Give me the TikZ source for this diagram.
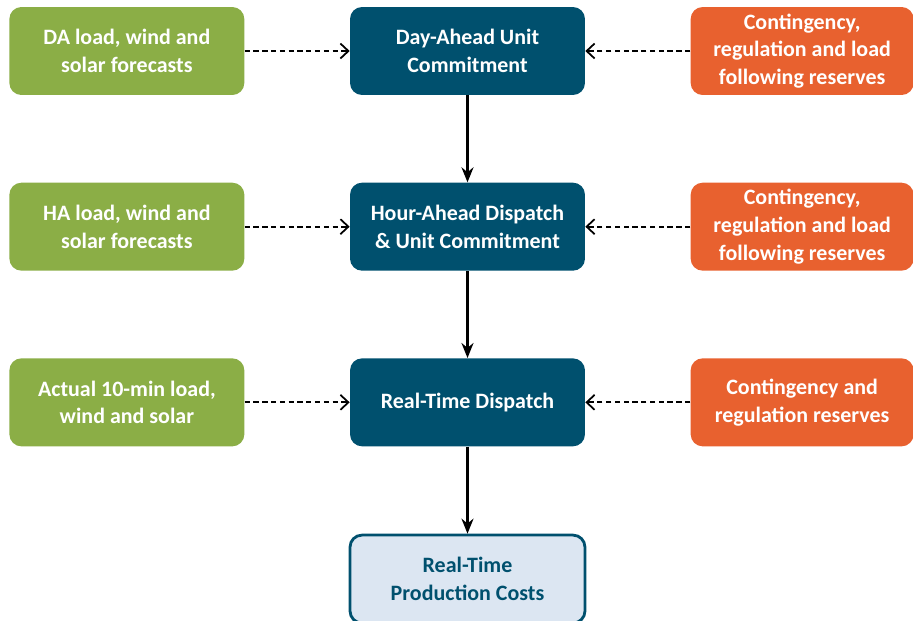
\documentclass[tikz,border=0pt]{standalone}
\usepackage{fontspec}
\setmainfont{Carlito}
\usetikzlibrary{positioning, arrows.meta}

\definecolor{inputgreen}{HTML}{8BAE46}
\definecolor{stagenavy}{HTML}{00506E}
\definecolor{reserveorange}{HTML}{E8612F}
\definecolor{costfill}{HTML}{DCE6F2}

\begin{document}
\begin{tikzpicture}[x=0.02cm, y=0.02cm, node distance=1.74cm and 2.1cm,
    box/.style={rectangle, rounded corners=0.24cm, minimum width=4.7cm, minimum height=1.76cm,
        align=center, inner sep=2pt, font=\bfseries\fontsize{12.5}{15.8}\selectfont},
    input/.style={box, fill=inputgreen, text=white},
    stage/.style={box, fill=stagenavy, text=white},
    reserve/.style={box, fill=reserveorange, text=white, minimum width=4.46cm},
    result/.style={box, fill=costfill, draw=stagenavy, line width=1.6pt, text=stagenavy},
    feed/.style={-{Straight Barb[length=1.6mm, width=3mm]}, dash pattern=on 3pt off 2pt, line width=1pt},
    flow/.style={-{Stealth[length=3mm, width=2.4mm]}, line width=1.3pt}]
    \useasboundingbox (0,0) rectangle (913,-620);

    % stages
    \node[stage] (da) at (467.5,-51) {Day-Ahead Unit\\Commitment};
    \node[stage, below=of da] (ha) {Hour-Ahead Dispatch\\\& Unit Commitment};
    \node[stage, below=of ha] (rt) {Real-Time Dispatch};
    \node[result, below=of rt] (cost) {Real-Time\\Production Costs};

    % forecasts
    \node[input, left=of da] (dain) {DA load, wind and\\solar forecasts};
    \node[input, left=of ha] (hain) {HA load, wind and\\solar forecasts};
    \node[input, left=of rt] (rtin) {Actual 10-min load,\\wind and solar};

    % reserves
    \node[reserve, right=of da] (dares) {Contingency,\\regulation and load\\following reserves};
    \node[reserve, right=of ha] (hares) {Contingency,\\regulation and load\\following reserves};
    \node[reserve, right=of rt] (rtres) {Contingency and\\regulation reserves};

    \draw[flow] (da) -- (ha);
    \draw[flow] (ha) -- (rt);
    \draw[flow] (rt) -- (cost);

    \draw[feed] (dain) -- (da);
    \draw[feed] (hain) -- (ha);
    \draw[feed] (rtin) -- (rt);
    \draw[feed] (dares) -- (da);
    \draw[feed] (hares) -- (ha);
    \draw[feed] (rtres) -- (rt);
\end{tikzpicture}
\end{document}
